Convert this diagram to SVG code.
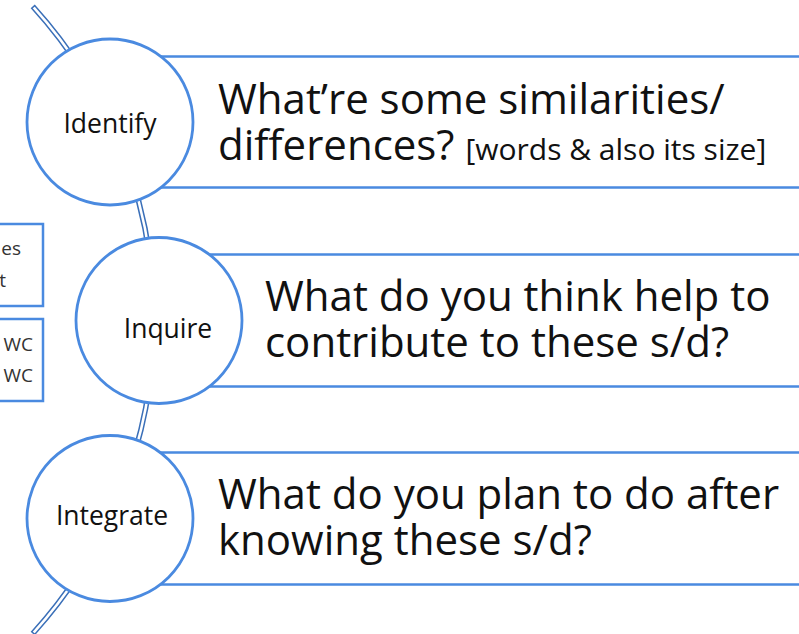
<svg xmlns="http://www.w3.org/2000/svg" width="799" height="634" viewBox="0 0 799 634">
<style>
.band{fill:#ffffff;stroke:#3a6fb8;stroke-width:1.5}
.box{fill:#ffffff;stroke:#4a8ae0;stroke-width:2.5}
.circ{fill:#ffffff;stroke:#4a8ae0;stroke-width:2.8}
.q{font-family:"Open Sans",Lato,"Liberation Sans",sans-serif;font-size:42px;fill:#111111}
.qs{font-size:30px}
.lbl{font-family:"Open Sans",Lato,"Liberation Sans",sans-serif;font-size:26.5px;fill:#111111;text-anchor:middle}
.side{font-family:"Open Sans",Lato,"Liberation Sans",sans-serif;font-size:19px;fill:#333333;text-anchor:end}
.sidebox{fill:#ffffff;stroke:#4a8ae0;stroke-width:2.5}
</style>
<rect width="799" height="634" fill="#ffffff"/>
<g id="side-notes">
<rect class="sidebox" x="-10" y="224" width="53" height="82"/>
<text class="side" x="21" y="255">es</text>
<text class="side" x="6" y="287">t</text>
<rect class="sidebox" x="-10" y="319" width="53" height="82"/>
<text class="side" x="33" y="351">WC</text>
<text class="side" x="33" y="382">WC</text>
</g>
<g id="connectors">
<path class="band" d="M34.7,5.6 A468,468 0 0 1 34.7,634.4 L31.7,631.7 A464,464 0 0 0 31.7,8.3 Z"/>
</g>
<g id="step-identify">
<rect class="box" x="110" y="56.5" width="700" height="131"/>
<circle class="circ" cx="110" cy="122" r="83"/>
<text class="lbl" x="110" y="133">Identify</text>
<text class="q" x="218" y="114">What’re some similarities/</text>
<text class="q" x="218" y="160">differences? <tspan class="qs">[words &amp; also its size]</tspan></text>
</g>
<g id="step-inquire">
<rect class="box" x="159" y="254.5" width="650" height="132"/>
<circle class="circ" cx="159" cy="320.5" r="83"/>
<text class="lbl" x="168" y="338">Inquire</text>
<text class="q" x="265" y="311">What do you think help to</text>
<text class="q" x="265" y="357">contribute to these s/d?</text>
</g>
<g id="step-integrate">
<rect class="box" x="110" y="452.5" width="700" height="132"/>
<circle class="circ" cx="110" cy="518.5" r="83"/>
<text class="lbl" x="112" y="525">Integrate</text>
<text class="q" x="218" y="509">What do you plan to do after</text>
<text class="q" x="218" y="555">knowing these s/d?</text>
</g>
</svg>
